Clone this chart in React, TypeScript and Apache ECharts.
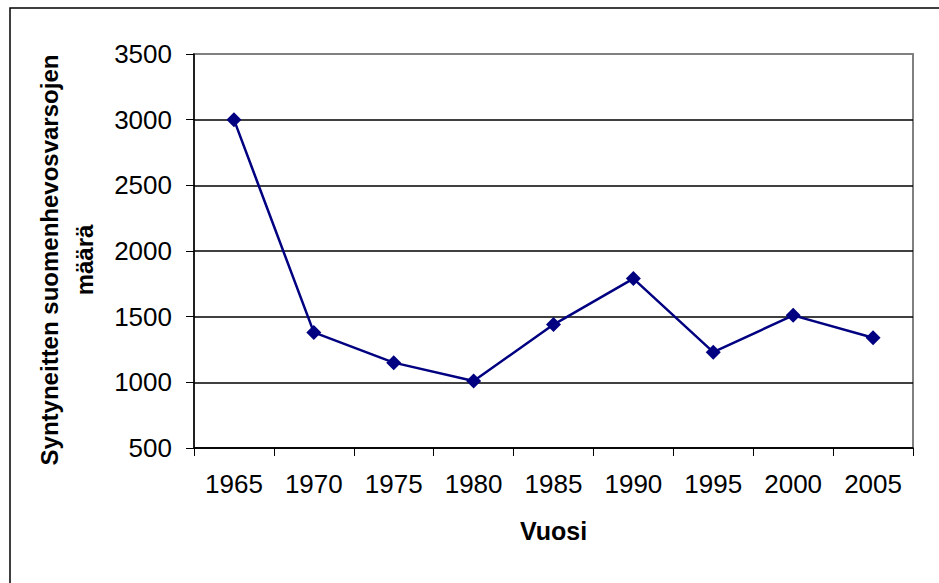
import React, { useEffect, useRef } from "react";
import * as echarts from "echarts";

const categories = ["1965", "1970", "1975", "1980", "1985", "1990", "1995", "2000", "2005"];
const foalCounts = [3000, 1380, 1150, 1010, 1440, 1790, 1230, 1510, 1340];
const yAxisTitle = "Syntyneitten suomenhevosvarsojen\nmäärä";
const xAxisTitle = "Vuosi";

export default function App() {
  const ref = useRef<HTMLDivElement>(null);
  useEffect(() => {
    if (!ref.current) return;
    const chart = echarts.init(ref.current, null, { renderer: "svg" });
    const font = "'Liberation Sans', Arial, sans-serif";
    chart.setOption({
      animation: false,
      backgroundColor: "#fff",
      graphic: [
        {
          type: "rect",
          shape: { x: 10, y: 8, width: 1000, height: 700 },
          style: { fill: "none", stroke: "#000", lineWidth: 1.5 },
          silent: true,
          z: 0,
        },
      ],
      grid: {
        left: 194,
        right: 26,
        top: 54,
        bottom: 135,
        show: true,
        borderColor: "#808080",
        borderWidth: 2,
        backgroundColor: "transparent",
      },
      xAxis: {
        type: "category",
        data: categories,
        boundaryGap: true,
        name: xAxisTitle,
        nameLocation: "middle",
        nameGap: 70,
        nameTextStyle: { fontFamily: font, fontSize: 25, fontWeight: "bold", color: "#000" },
        axisLine: { lineStyle: { color: "#000", width: 1.5 } },
        axisTick: { show: true, length: 8, lineStyle: { color: "#000" } },
        axisLabel: { fontFamily: font, fontSize: 26, color: "#000", margin: 23 },
        splitLine: { show: false },
      },
      yAxis: {
        type: "value",
        min: 500,
        max: 3500,
        interval: 500,
        name: yAxisTitle,
        nameLocation: "middle",
        nameGap: 92,
        nameTextStyle: {
          fontFamily: font,
          fontSize: 24,
          fontWeight: "bold",
          color: "#000",
          lineHeight: 35,
          padding: [0, 18, 0, 0],
        },
        axisLine: { show: true, lineStyle: { color: "#000", width: 1.5 } },
        axisTick: { show: true, length: 8, lineStyle: { color: "#000" } },
        axisLabel: {
          fontFamily: font,
          fontSize: 26,
          color: "#000",
          margin: 22,
          formatter: (v: number) => String(v),
        },
        splitLine: {
          show: true,
          lineStyle: {
            color: ["#000", "#000", "#000", "#000", "#000", "#000", "#808080"],
            width: 1.5,
          },
        },
      },
      series: [
        {
          type: "line",
          data: foalCounts,
          symbol: "diamond",
          symbolSize: 15,
          itemStyle: { color: "#000080" },
          lineStyle: { color: "#000080", width: 2.5 },
          z: 5,
        },
      ],
    });
    return () => chart.dispose();
  }, []);
  return (
    <div
      ref={ref}
      style={{ position: "absolute", left: 0, top: 0, width: 939, height: 583 }}
    />
  );
}
